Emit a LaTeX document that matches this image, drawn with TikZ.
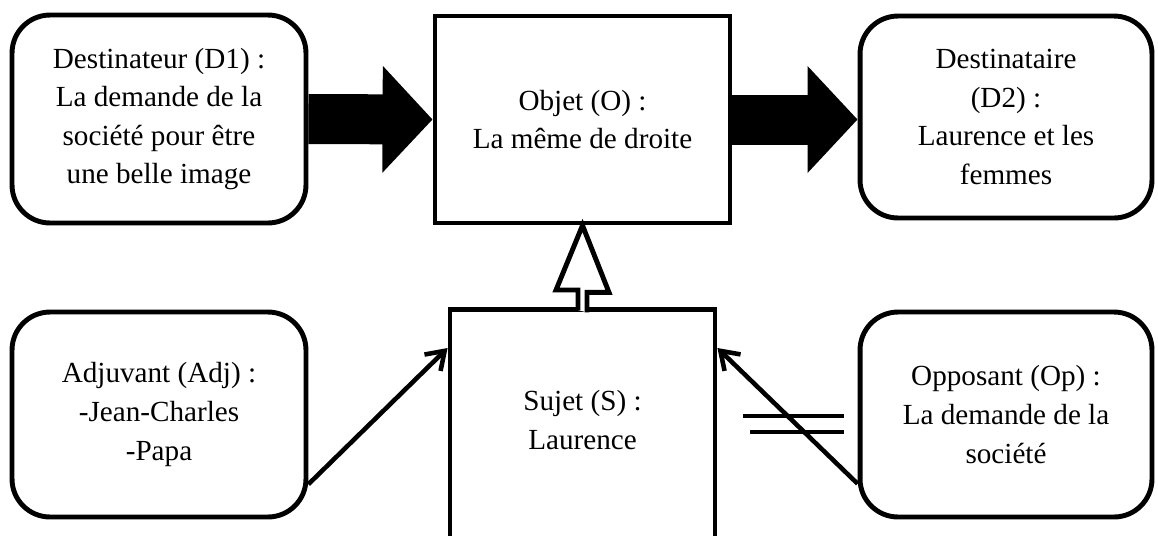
\documentclass[tikz,border=0pt]{standalone}
\usepackage{fontspec}
\setmainfont{Liberation Serif}
\usetikzlibrary{arrows.meta,calc}
\begin{document}
\begin{tikzpicture}[x=0.02cm,y=-0.02cm,
  txt/.style={align=center, font=\fontsize{16.6}{22}\selectfont, inner sep=0pt},
  box/.style={txt, draw, line width=2.8pt, rounded corners=0.76cm},
  sqbox/.style={txt, draw, line width=2.8pt},
  fat/.style={line width=1cm, -{Triangle[length=1cm,width=2.08cm]}},
  thin/.style={line width=2.6pt, -{Straight Barb[length=0.34cm,width=0.46cm]}},
  bar/.style={line width=2.6pt}]
\useasboundingbox (0,0) rectangle (1158,535);
\fill[white] (0,0) rectangle (1158,535);
% boxes
\node[box, minimum width=5.88cm, minimum height=4.16cm] (d1) at (159,119)
  {Destinateur (D1) :\\La demande de la\\société pour être\\une belle image};
\node[sqbox, minimum width=5.9cm, minimum height=4.14cm] (obj) at (582.5,119.5)
  {Objet (O) :\\La même de droite};
\node[box, minimum width=5.84cm, minimum height=4.04cm] (d2) at (1006,117)
  {Destinataire\\(D2) :\\Laurence et les\\femmes};
\node[box, minimum width=5.88cm, minimum height=4.1cm] (adj) at (159,414.5)
  {Adjuvant (Adj) :\\-Jean-Charles\\-Papa};
\node[box, minimum width=5.84cm, minimum height=4.1cm] (op) at (1006,414.5)
  {Opposant (Op) :\\La demande de la\\société};
\node[sqbox, minimum width=5.3cm, minimum height=5.4cm, anchor=north] (sujet) at (582.5,307) {};
\node[txt] (sujetlbl) at (582.5,420) {Sujet (S) :\\Laurence};
% fat arrows
\draw[fat] (d1.east) -- (obj.west);
\draw[fat] (obj.east) -- (obj.east -| d2.west);
% hollow arrow
\draw[fill=white, line width=2.8pt, line join=miter]
  ($(sujet.north)+(-4.5,3)$) -- ++(0,-20) -- ++(-22,0) -- (obj.south)
  -- ++(26.5,67) -- ++(-22,0) -- ++(0,20);
% thin arrows
\coordinate (sL) at ($(sujet.north west)+(0,41)$);
\coordinate (sR) at ($(sujet.north east)+(0,41)$);
\draw[thin] (adj.-25) -- (sL);
\draw[thin] (op.205) -- (sR);
% double bar
\draw[bar] (743,416) -- (844,416);
\draw[bar] (750,432) -- (844,432);
\end{tikzpicture}
\end{document}
